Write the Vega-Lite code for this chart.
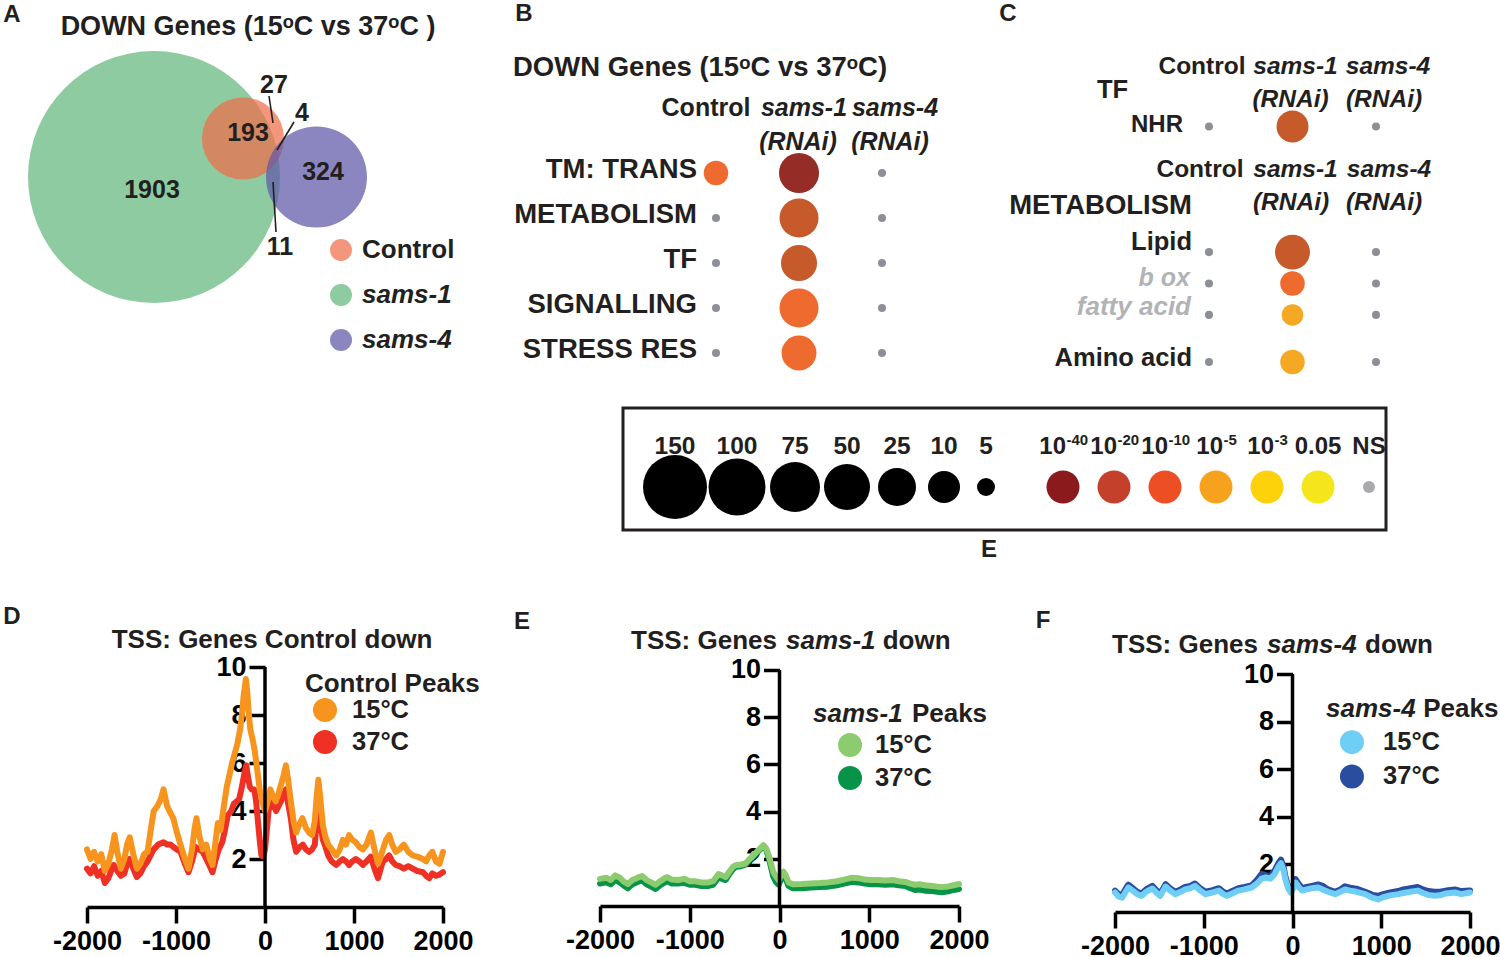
{
"$schema": "https://vega.github.io/schema/vega-lite/v6.json",
"background": "white",
"padding": 0,
"spacing": 0,
"bounds": "full",
"config": {
  "font": "Liberation Sans",
  "view": {"stroke": null},
  "text": {"font": "Liberation Sans", "fontWeight": "bold", "fontSize": 26, "color": "#231F20", "baseline": "middle"},
  "axis": {"domainColor": "#000000", "domainWidth": 3.5, "tickColor": "#000000", "tickWidth": 3.5, "tickSize": 16, "labelFont": "Liberation Sans", "labelFontSize": 27, "labelFontWeight": "bold", "labelColor": "#000000", "grid": false}
},
"datasets": {
  "one": [{}],
  "venn": [
    {"set": "sams-1", "genes": 2111, "cx": 30.8, "cy": 35.4},
    {"set": "Control", "genes": 224, "cx": 48.6, "cy": 27.7},
    {"set": "sams-4", "genes": 339, "cx": 63.3, "cy": 35.4}
  ],
  "vennCounts": [
    {"region": "sams-1 only", "count": 1903, "lx": 30.4, "ly": 38},
    {"region": "Control and sams-1", "count": 193, "lx": 49.6, "ly": 26.6},
    {"region": "Control only", "count": 27, "lx": 54.8, "ly": 17},
    {"region": "all three", "count": 4, "lx": 60.4, "ly": 22.6},
    {"region": "sams-4 only", "count": 324, "lx": 64.6, "ly": 34.4},
    {"region": "sams-1 and sams-4", "count": 11, "lx": 56, "ly": 49.4}
  ],
  "leaders": [
    {"count": 27, "x1": 53.8, "y1": 19.2, "x2": 54.6, "y2": 24.6},
    {"count": 4, "x1": 58.8, "y1": 24.4, "x2": 55.4, "y2": 30},
    {"count": 11, "x1": 54.6, "y1": 36.4, "x2": 55.2, "y2": 46.4}
  ],
  "dotsB": [
    {"category": "TM: TRANS", "group": "Control", "genes": 7, "p": "1e-10"},
    {"category": "TM: TRANS", "group": "sams-1", "genes": 31, "p": "1e-40"},
    {"category": "TM: TRANS", "group": "sams-4", "genes": 1, "p": "NS"},
    {"category": "METABOLISM", "group": "Control", "genes": 1, "p": "NS"},
    {"category": "METABOLISM", "group": "sams-1", "genes": 28, "p": "1e-20"},
    {"category": "METABOLISM", "group": "sams-4", "genes": 1, "p": "NS"},
    {"category": "TF", "group": "Control", "genes": 1, "p": "NS"},
    {"category": "TF", "group": "sams-1", "genes": 20, "p": "1e-20"},
    {"category": "TF", "group": "sams-4", "genes": 1, "p": "NS"},
    {"category": "SIGNALLING", "group": "Control", "genes": 1, "p": "NS"},
    {"category": "SIGNALLING", "group": "sams-1", "genes": 28, "p": "1e-10"},
    {"category": "SIGNALLING", "group": "sams-4", "genes": 1, "p": "NS"},
    {"category": "STRESS RES", "group": "Control", "genes": 1, "p": "NS"},
    {"category": "STRESS RES", "group": "sams-1", "genes": 17, "p": "1e-10"},
    {"category": "STRESS RES", "group": "sams-4", "genes": 1, "p": "NS"}
  ],
  "dotsC": [
    {"category": "NHR", "group": "Control", "genes": 1, "p": "NS"},
    {"category": "NHR", "group": "sams-1", "genes": 10, "p": "1e-20"},
    {"category": "NHR", "group": "sams-4", "genes": 1, "p": "NS"},
    {"category": "Lipid", "group": "Control", "genes": 1, "p": "NS"},
    {"category": "Lipid", "group": "sams-1", "genes": 17, "p": "1e-20"},
    {"category": "Lipid", "group": "sams-4", "genes": 1, "p": "NS"},
    {"category": "b ox", "group": "Control", "genes": 1, "p": "NS"},
    {"category": "b ox", "group": "sams-1", "genes": 7, "p": "1e-10"},
    {"category": "b ox", "group": "sams-4", "genes": 1, "p": "NS"},
    {"category": "fatty acid", "group": "Control", "genes": 1, "p": "NS"},
    {"category": "fatty acid", "group": "sams-1", "genes": 6, "p": "1e-5"},
    {"category": "fatty acid", "group": "sams-4", "genes": 1, "p": "NS"},
    {"category": "Amino acid", "group": "Control", "genes": 1, "p": "NS"},
    {"category": "Amino acid", "group": "sams-1", "genes": 7, "p": "1e-5"},
    {"category": "Amino acid", "group": "sams-4", "genes": 1, "p": "NS"}
  ],
  "sizeKey": [{"n": 150}, {"n": 100}, {"n": 75}, {"n": 50}, {"n": 25}, {"n": 10}, {"n": 5}],
  "pKey": [
    {"p": "1e-40", "base": "10", "exp": "-40"}, {"p": "1e-20", "base": "10", "exp": "-20"}, {"p": "1e-10", "base": "10", "exp": "-10"},
    {"p": "1e-5", "base": "10", "exp": "-5"}, {"p": "1e-3", "base": "10", "exp": "-3"}, {"p": "0.05", "base": "0.05", "exp": ""}, {"p": "NS", "base": "NS", "exp": ""}
  ],
  "D15": [
    {"pos":-2000,"signal":2.4},{"pos":-1960,"signal":2.0},{"pos":-1920,"signal":2.3},{"pos":-1880,"signal":1.9},{"pos":-1840,"signal":2.2},{"pos":-1800,"signal":1.5},{"pos":-1760,"signal":1.8},{"pos":-1720,"signal":2.4},{"pos":-1690,"signal":3.0},{"pos":-1660,"signal":2.3},{"pos":-1620,"signal":1.6},{"pos":-1580,"signal":2.0},{"pos":-1550,"signal":2.6},{"pos":-1520,"signal":2.9},{"pos":-1480,"signal":2.2},{"pos":-1440,"signal":1.6},{"pos":-1400,"signal":1.8},{"pos":-1360,"signal":2.2},{"pos":-1320,"signal":2.3},{"pos":-1280,"signal":3.3},{"pos":-1250,"signal":4.0},{"pos":-1210,"signal":4.2},{"pos":-1170,"signal":4.5},{"pos":-1140,"signal":4.9},{"pos":-1100,"signal":4.2},{"pos":-1060,"signal":3.9},{"pos":-1030,"signal":3.7},{"pos":-990,"signal":3.1},{"pos":-950,"signal":2.6},{"pos":-900,"signal":2.0},{"pos":-860,"signal":1.6},{"pos":-820,"signal":2.4},{"pos":-790,"signal":3.3},{"pos":-770,"signal":3.7},{"pos":-740,"signal":3.0},{"pos":-700,"signal":2.4},{"pos":-660,"signal":2.6},{"pos":-620,"signal":2.0},{"pos":-590,"signal":1.75},{"pos":-560,"signal":2.6},{"pos":-530,"signal":3.5},{"pos":-500,"signal":3.2},{"pos":-470,"signal":4.0},{"pos":-430,"signal":5.0},{"pos":-400,"signal":5.5},{"pos":-370,"signal":6.0},{"pos":-340,"signal":6.4},{"pos":-310,"signal":6.8},{"pos":-280,"signal":7.4},{"pos":-260,"signal":8.0},{"pos":-240,"signal":8.8},{"pos":-215,"signal":9.5},{"pos":-200,"signal":9.0},{"pos":-185,"signal":8.2},{"pos":-165,"signal":7.4},{"pos":-140,"signal":7.0},{"pos":-115,"signal":6.5},{"pos":-90,"signal":5.8},{"pos":-60,"signal":4.9},{"pos":-30,"signal":4.4},{"pos":0,"signal":4.0},{"pos":30,"signal":4.4},{"pos":60,"signal":4.9},{"pos":90,"signal":4.6},{"pos":120,"signal":4.4},{"pos":150,"signal":4.7},{"pos":180,"signal":5.1},{"pos":210,"signal":5.5},{"pos":235,"signal":5.9},{"pos":260,"signal":5.3},{"pos":290,"signal":4.4},{"pos":320,"signal":3.6},{"pos":350,"signal":3.1},{"pos":380,"signal":3.4},{"pos":420,"signal":3.7},{"pos":460,"signal":3.3},{"pos":495,"signal":3.1},{"pos":530,"signal":3.0},{"pos":560,"signal":3.6},{"pos":580,"signal":4.6},{"pos":600,"signal":5.3},{"pos":620,"signal":4.6},{"pos":650,"signal":3.4},{"pos":680,"signal":2.9},{"pos":710,"signal":2.6},{"pos":750,"signal":2.4},{"pos":800,"signal":2.15},{"pos":840,"signal":2.4},{"pos":875,"signal":2.8},{"pos":910,"signal":2.6},{"pos":945,"signal":3.0},{"pos":980,"signal":2.8},{"pos":1020,"signal":2.7},{"pos":1060,"signal":2.5},{"pos":1100,"signal":2.4},{"pos":1140,"signal":2.6},{"pos":1190,"signal":3.1},{"pos":1230,"signal":2.4},{"pos":1270,"signal":1.8},{"pos":1300,"signal":2.1},{"pos":1325,"signal":2.4},{"pos":1360,"signal":2.8},{"pos":1395,"signal":3.0},{"pos":1430,"signal":2.6},{"pos":1470,"signal":2.3},{"pos":1510,"signal":2.4},{"pos":1560,"signal":2.6},{"pos":1610,"signal":2.3},{"pos":1660,"signal":2.15},{"pos":1710,"signal":2.1},{"pos":1775,"signal":2.0},{"pos":1810,"signal":1.9},{"pos":1845,"signal":2.15},{"pos":1880,"signal":2.3},{"pos":1920,"signal":1.9},{"pos":1960,"signal":1.8},{"pos":2000,"signal":2.3}
  ],
  "D37": [
    {"pos":-2000,"signal":1.6},{"pos":-1960,"signal":1.4},{"pos":-1920,"signal":1.7},{"pos":-1880,"signal":1.3},{"pos":-1840,"signal":1.5},{"pos":-1800,"signal":1.0},{"pos":-1760,"signal":1.2},{"pos":-1720,"signal":1.6},{"pos":-1700,"signal":1.75},{"pos":-1660,"signal":1.5},{"pos":-1620,"signal":1.3},{"pos":-1580,"signal":1.4},{"pos":-1550,"signal":1.8},{"pos":-1520,"signal":2.0},{"pos":-1480,"signal":1.6},{"pos":-1440,"signal":1.25},{"pos":-1400,"signal":1.4},{"pos":-1360,"signal":1.7},{"pos":-1320,"signal":1.9},{"pos":-1280,"signal":2.2},{"pos":-1250,"signal":2.4},{"pos":-1200,"signal":2.6},{"pos":-1140,"signal":2.7},{"pos":-1100,"signal":2.6},{"pos":-1060,"signal":2.6},{"pos":-1030,"signal":2.5},{"pos":-990,"signal":2.4},{"pos":-950,"signal":2.3},{"pos":-900,"signal":1.8},{"pos":-860,"signal":1.45},{"pos":-820,"signal":1.9},{"pos":-780,"signal":2.5},{"pos":-740,"signal":2.4},{"pos":-700,"signal":2.3},{"pos":-660,"signal":2.0},{"pos":-620,"signal":1.7},{"pos":-590,"signal":1.45},{"pos":-560,"signal":1.9},{"pos":-520,"signal":2.4},{"pos":-480,"signal":2.7},{"pos":-450,"signal":3.2},{"pos":-420,"signal":3.8},{"pos":-380,"signal":4.0},{"pos":-350,"signal":4.3},{"pos":-320,"signal":4.4},{"pos":-290,"signal":4.5},{"pos":-260,"signal":5.0},{"pos":-230,"signal":5.6},{"pos":-210,"signal":5.9},{"pos":-190,"signal":5.4},{"pos":-170,"signal":5.0},{"pos":-150,"signal":4.9},{"pos":-120,"signal":4.9},{"pos":-100,"signal":4.4},{"pos":-80,"signal":3.6},{"pos":-60,"signal":2.8},{"pos":-40,"signal":2.15},{"pos":-20,"signal":2.1},{"pos":0,"signal":2.4},{"pos":20,"signal":3.2},{"pos":40,"signal":4.0},{"pos":70,"signal":4.5},{"pos":100,"signal":4.2},{"pos":125,"signal":4.0},{"pos":150,"signal":4.2},{"pos":180,"signal":4.4},{"pos":210,"signal":4.7},{"pos":235,"signal":4.9},{"pos":260,"signal":4.3},{"pos":290,"signal":3.7},{"pos":320,"signal":2.8},{"pos":350,"signal":2.3},{"pos":390,"signal":2.5},{"pos":425,"signal":2.6},{"pos":460,"signal":2.4},{"pos":495,"signal":2.3},{"pos":530,"signal":2.4},{"pos":560,"signal":2.6},{"pos":580,"signal":3.6},{"pos":600,"signal":4.5},{"pos":620,"signal":3.6},{"pos":650,"signal":2.8},{"pos":680,"signal":2.5},{"pos":710,"signal":2.15},{"pos":750,"signal":1.9},{"pos":800,"signal":1.75},{"pos":840,"signal":1.9},{"pos":875,"signal":2.0},{"pos":910,"signal":1.9},{"pos":945,"signal":1.75},{"pos":980,"signal":1.9},{"pos":1020,"signal":2.0},{"pos":1060,"signal":1.9},{"pos":1100,"signal":1.75},{"pos":1140,"signal":1.9},{"pos":1190,"signal":2.1},{"pos":1230,"signal":1.6},{"pos":1270,"signal":1.2},{"pos":1300,"signal":1.6},{"pos":1325,"signal":1.9},{"pos":1360,"signal":2.0},{"pos":1395,"signal":2.15},{"pos":1430,"signal":1.9},{"pos":1470,"signal":1.75},{"pos":1510,"signal":1.7},{"pos":1560,"signal":1.6},{"pos":1610,"signal":1.7},{"pos":1660,"signal":1.6},{"pos":1710,"signal":1.5},{"pos":1775,"signal":1.45},{"pos":1810,"signal":1.3},{"pos":1845,"signal":1.2},{"pos":1880,"signal":1.4},{"pos":1920,"signal":1.3},{"pos":1960,"signal":1.35},{"pos":2000,"signal":1.45}
  ],
  "E15": [
    {"pos":-2000,"signal":1.15},{"pos":-1930,"signal":1.2},{"pos":-1880,"signal":1.1},{"pos":-1830,"signal":1.3},{"pos":-1780,"signal":1.2},{"pos":-1740,"signal":1.05},{"pos":-1690,"signal":0.93},{"pos":-1640,"signal":1.1},{"pos":-1580,"signal":1.2},{"pos":-1530,"signal":1.27},{"pos":-1480,"signal":1.1},{"pos":-1430,"signal":1.0},{"pos":-1380,"signal":0.9},{"pos":-1330,"signal":1.05},{"pos":-1280,"signal":1.18},{"pos":-1250,"signal":1.22},{"pos":-1200,"signal":1.12},{"pos":-1130,"signal":1.1},{"pos":-1060,"signal":1.15},{"pos":-1000,"signal":1.05},{"pos":-940,"signal":1.05},{"pos":-870,"signal":1.0},{"pos":-790,"signal":1.0},{"pos":-740,"signal":1.05},{"pos":-700,"signal":1.25},{"pos":-680,"signal":1.35},{"pos":-640,"signal":1.3},{"pos":-600,"signal":1.22},{"pos":-560,"signal":1.45},{"pos":-520,"signal":1.65},{"pos":-490,"signal":1.73},{"pos":-440,"signal":1.75},{"pos":-380,"signal":1.8},{"pos":-330,"signal":2.0},{"pos":-290,"signal":2.15},{"pos":-240,"signal":2.35},{"pos":-200,"signal":2.5},{"pos":-180,"signal":2.58},{"pos":-150,"signal":2.45},{"pos":-120,"signal":2.15},{"pos":-95,"signal":1.8},{"pos":-70,"signal":1.45},{"pos":-40,"signal":1.25},{"pos":-10,"signal":1.1},{"pos":20,"signal":1.3},{"pos":45,"signal":1.45},{"pos":70,"signal":1.3},{"pos":100,"signal":1.0},{"pos":150,"signal":0.92},{"pos":250,"signal":0.93},{"pos":350,"signal":0.95},{"pos":450,"signal":0.97},{"pos":540,"signal":1.0},{"pos":640,"signal":1.05},{"pos":720,"signal":1.12},{"pos":810,"signal":1.2},{"pos":880,"signal":1.18},{"pos":950,"signal":1.12},{"pos":1020,"signal":1.1},{"pos":1100,"signal":1.1},{"pos":1180,"signal":1.08},{"pos":1260,"signal":1.1},{"pos":1330,"signal":1.05},{"pos":1400,"signal":1.02},{"pos":1460,"signal":0.95},{"pos":1510,"signal":0.9},{"pos":1560,"signal":0.92},{"pos":1620,"signal":0.88},{"pos":1700,"signal":0.85},{"pos":1760,"signal":0.82},{"pos":1810,"signal":0.8},{"pos":1880,"signal":0.83},{"pos":1940,"signal":0.88},{"pos":2000,"signal":0.93}
  ],
  "E37": [
    {"pos":-2000,"signal":0.95},{"pos":-1930,"signal":1.0},{"pos":-1880,"signal":0.92},{"pos":-1830,"signal":1.1},{"pos":-1780,"signal":1.0},{"pos":-1740,"signal":0.88},{"pos":-1690,"signal":0.75},{"pos":-1640,"signal":0.92},{"pos":-1580,"signal":1.02},{"pos":-1530,"signal":1.08},{"pos":-1480,"signal":0.92},{"pos":-1430,"signal":0.82},{"pos":-1380,"signal":0.72},{"pos":-1330,"signal":0.88},{"pos":-1280,"signal":1.0},{"pos":-1250,"signal":1.05},{"pos":-1200,"signal":0.95},{"pos":-1130,"signal":0.95},{"pos":-1060,"signal":0.98},{"pos":-1000,"signal":0.9},{"pos":-940,"signal":0.9},{"pos":-870,"signal":0.85},{"pos":-790,"signal":0.85},{"pos":-740,"signal":0.9},{"pos":-700,"signal":1.1},{"pos":-680,"signal":1.2},{"pos":-640,"signal":1.15},{"pos":-600,"signal":1.1},{"pos":-560,"signal":1.35},{"pos":-520,"signal":1.55},{"pos":-490,"signal":1.65},{"pos":-440,"signal":1.68},{"pos":-380,"signal":1.75},{"pos":-330,"signal":1.95},{"pos":-290,"signal":2.1},{"pos":-240,"signal":2.3},{"pos":-200,"signal":2.45},{"pos":-180,"signal":2.52},{"pos":-150,"signal":2.4},{"pos":-120,"signal":2.05},{"pos":-95,"signal":1.65},{"pos":-70,"signal":1.25},{"pos":-40,"signal":1.02},{"pos":-10,"signal":0.9},{"pos":20,"signal":1.15},{"pos":45,"signal":1.3},{"pos":70,"signal":1.15},{"pos":100,"signal":0.85},{"pos":150,"signal":0.75},{"pos":250,"signal":0.75},{"pos":350,"signal":0.78},{"pos":450,"signal":0.8},{"pos":540,"signal":0.82},{"pos":640,"signal":0.88},{"pos":720,"signal":0.95},{"pos":810,"signal":1.02},{"pos":880,"signal":1.0},{"pos":950,"signal":0.95},{"pos":1020,"signal":0.92},{"pos":1100,"signal":0.92},{"pos":1180,"signal":0.9},{"pos":1260,"signal":0.92},{"pos":1330,"signal":0.88},{"pos":1400,"signal":0.85},{"pos":1460,"signal":0.75},{"pos":1510,"signal":0.68},{"pos":1560,"signal":0.7},{"pos":1620,"signal":0.65},{"pos":1700,"signal":0.63},{"pos":1760,"signal":0.6},{"pos":1810,"signal":0.58},{"pos":1880,"signal":0.62},{"pos":1940,"signal":0.68},{"pos":2000,"signal":0.72}
  ],
  "F15": [
    {"pos":-2000,"signal":0.82},{"pos":-1960,"signal":0.65},{"pos":-1920,"signal":0.6},{"pos":-1880,"signal":0.85},{"pos":-1850,"signal":1.03},{"pos":-1800,"signal":0.9},{"pos":-1750,"signal":0.75},{"pos":-1700,"signal":0.68},{"pos":-1650,"signal":0.85},{"pos":-1580,"signal":0.99},{"pos":-1530,"signal":0.8},{"pos":-1490,"signal":0.68},{"pos":-1430,"signal":1.07},{"pos":-1380,"signal":0.9},{"pos":-1320,"signal":0.75},{"pos":-1260,"signal":0.85},{"pos":-1210,"signal":0.95},{"pos":-1150,"signal":1.0},{"pos":-1100,"signal":1.1},{"pos":-1040,"signal":0.9},{"pos":-980,"signal":0.75},{"pos":-900,"signal":0.82},{"pos":-830,"signal":0.9},{"pos":-780,"signal":0.75},{"pos":-740,"signal":0.68},{"pos":-680,"signal":0.78},{"pos":-610,"signal":0.9},{"pos":-540,"signal":0.95},{"pos":-460,"signal":1.03},{"pos":-400,"signal":1.2},{"pos":-350,"signal":1.4},{"pos":-300,"signal":1.45},{"pos":-250,"signal":1.4},{"pos":-200,"signal":1.6},{"pos":-160,"signal":1.9},{"pos":-130,"signal":2.05},{"pos":-100,"signal":1.75},{"pos":-80,"signal":1.37},{"pos":-50,"signal":1.0},{"pos":-20,"signal":0.82},{"pos":10,"signal":1.0},{"pos":35,"signal":1.24},{"pos":70,"signal":1.05},{"pos":110,"signal":0.9},{"pos":160,"signal":0.95},{"pos":220,"signal":1.0},{"pos":290,"signal":1.03},{"pos":340,"signal":0.95},{"pos":400,"signal":0.85},{"pos":480,"signal":0.75},{"pos":540,"signal":0.85},{"pos":590,"signal":0.95},{"pos":650,"signal":0.9},{"pos":720,"signal":0.85},{"pos":820,"signal":0.75},{"pos":900,"signal":0.6},{"pos":965,"signal":0.53},{"pos":1020,"signal":0.62},{"pos":1100,"signal":0.7},{"pos":1190,"signal":0.75},{"pos":1250,"signal":0.8},{"pos":1330,"signal":0.85},{"pos":1410,"signal":0.9},{"pos":1470,"signal":0.8},{"pos":1530,"signal":0.72},{"pos":1600,"signal":0.68},{"pos":1660,"signal":0.7},{"pos":1730,"signal":0.78},{"pos":1830,"signal":0.82},{"pos":1900,"signal":0.75},{"pos":2000,"signal":0.82}
  ],
  "F37": [
    {"pos":-2000,"signal":0.9},{"pos":-1960,"signal":0.75},{"pos":-1920,"signal":0.72},{"pos":-1880,"signal":0.98},{"pos":-1850,"signal":1.15},{"pos":-1800,"signal":1.0},{"pos":-1750,"signal":0.85},{"pos":-1700,"signal":0.78},{"pos":-1650,"signal":0.95},{"pos":-1580,"signal":1.1},{"pos":-1530,"signal":0.9},{"pos":-1490,"signal":0.78},{"pos":-1430,"signal":1.17},{"pos":-1380,"signal":1.0},{"pos":-1320,"signal":0.85},{"pos":-1260,"signal":0.95},{"pos":-1210,"signal":1.05},{"pos":-1150,"signal":1.1},{"pos":-1100,"signal":1.2},{"pos":-1040,"signal":1.0},{"pos":-980,"signal":0.85},{"pos":-900,"signal":0.92},{"pos":-830,"signal":1.0},{"pos":-780,"signal":0.85},{"pos":-740,"signal":0.78},{"pos":-680,"signal":0.88},{"pos":-610,"signal":1.0},{"pos":-540,"signal":1.05},{"pos":-460,"signal":1.12},{"pos":-400,"signal":1.35},{"pos":-350,"signal":1.6},{"pos":-300,"signal":1.55},{"pos":-250,"signal":1.5},{"pos":-200,"signal":1.75},{"pos":-160,"signal":2.05},{"pos":-130,"signal":2.2},{"pos":-100,"signal":1.9},{"pos":-80,"signal":1.5},{"pos":-50,"signal":1.1},{"pos":-20,"signal":0.92},{"pos":10,"signal":1.12},{"pos":35,"signal":1.38},{"pos":70,"signal":1.18},{"pos":110,"signal":1.0},{"pos":160,"signal":1.05},{"pos":220,"signal":1.1},{"pos":290,"signal":1.16},{"pos":340,"signal":1.1},{"pos":400,"signal":0.95},{"pos":480,"signal":0.85},{"pos":540,"signal":0.95},{"pos":590,"signal":1.08},{"pos":650,"signal":1.02},{"pos":720,"signal":0.98},{"pos":820,"signal":0.85},{"pos":900,"signal":0.72},{"pos":965,"signal":0.68},{"pos":1020,"signal":0.75},{"pos":1100,"signal":0.82},{"pos":1190,"signal":0.88},{"pos":1250,"signal":0.95},{"pos":1330,"signal":1.0},{"pos":1410,"signal":1.05},{"pos":1470,"signal":0.95},{"pos":1530,"signal":0.88},{"pos":1600,"signal":0.85},{"pos":1660,"signal":0.85},{"pos":1730,"signal":0.9},{"pos":1830,"signal":0.95},{"pos":1900,"signal":0.88},{"pos":2000,"signal":0.9}
  ]
},
"resolve": {"scale": {"color": "independent", "size": "independent"}},
"vconcat": [
  {
    "spacing": 0, "bounds": "flush",
    "resolve": {"scale": {"color": "independent", "size": "independent"}},
    "hconcat": [
      {
        "width": 500, "height": 406,
        "layer": [
          {
            "data": {"name": "venn"},
            "mark": {"type": "point", "shape": "circle", "filled": true, "opacity": 0.72, "strokeWidth": 0},
            "encoding": {
              "x": {"field": "cx", "type": "quantitative", "scale": {"domain": [0, 100], "nice": false, "zero": false}, "axis": null},
              "y": {"field": "cy", "type": "quantitative", "scale": {"domain": [0, 81.2], "nice": false, "zero": false, "reverse": true}, "axis": null},
              "size": {"field": "genes", "type": "quantitative", "scale": {"domain": [0, 2111], "range": [0, 63504]}, "legend": null},
              "color": {"field": "set", "type": "nominal",
                "scale": {"domain": ["Control", "sams-1", "sams-4"], "range": ["#F06D4A", "#62B77B", "#5F58A7"]},
                "legend": {"orient": "none", "legendX": 328, "legendY": 237, "title": null, "symbolType": "circle", "symbolSize": 484, "symbolOpacity": 0.72, "symbolStrokeWidth": 0, "labelFont": "Liberation Sans", "labelFontSize": 26, "labelFontWeight": "bold", "labelColor": "#231F20", "labelOffset": 8, "rowPadding": 19, "padding": 0,
                  "encode": {"labels": {"update": {"fontStyle": {"signal": "datum.value === 'Control' ? 'normal' : 'italic'"}}}}}
              }
            }
          },
          {
            "data": {"name": "leaders"},
            "mark": {"type": "rule", "color": "#231F20", "strokeWidth": 1.6},
            "encoding": {
              "x": {"field": "x1", "type": "quantitative"}, "y": {"field": "y1", "type": "quantitative"},
              "x2": {"field": "x2"}, "y2": {"field": "y2"}
            }
          },
          {
            "data": {"name": "vennCounts"},
            "mark": {"type": "text", "fontSize": 25},
            "encoding": {
              "x": {"field": "lx", "type": "quantitative"}, "y": {"field": "ly", "type": "quantitative"},
              "text": {"field": "count", "type": "nominal"}
            }
          },
          {"data": {"name": "one"}, "mark": {"type": "text", "text": "DOWN Genes (15ᵒC vs 37ᵒC )", "fontSize": 27}, "encoding": {"x": {"datum": 49.6}, "y": {"datum": 5.4}}},
          {"data": {"name": "one"}, "mark": {"type": "text", "text": "A", "fontSize": 24}, "encoding": {"x": {"datum": 2.4}, "y": {"datum": 3}}}
        ]
      },
      {
        "width": 500, "height": 406,
        "layer": [
          {
            "data": {"name": "dotsB"},
            "mark": {"type": "point", "shape": "circle", "filled": true, "opacity": 1},
            "encoding": {
              "x": {"field": "group", "type": "nominal", "scale": {"type": "point", "domain": ["Control", "sams-1", "sams-4"], "range": [216, 382], "padding": 0}, "axis": null},
              "y": {"field": "category", "type": "nominal", "scale": {"type": "point", "domain": ["TM: TRANS", "METABOLISM", "TF", "SIGNALLING", "STRESS RES"], "range": [173, 353], "padding": 0}, "axis": null},
              "size": {"field": "genes", "type": "quantitative", "scale": {"type": "linear", "domain": [0, 5, 10, 25, 50, 75, 100, 150], "range": [0, 324, 1024, 1444, 2116, 2500, 3249, 4096], "zero": false, "nice": false}, "legend": null},
              "color": {"field": "p", "type": "nominal", "scale": {"domain": ["1e-40", "1e-20", "1e-10", "1e-5", "NS"], "range": ["#952D26", "#C65A2B", "#EE6A2E", "#F4A823", "#8C9096"]}, "legend": null}
            }
          },
          {
            "data": {"name": "dotsB"},
            "transform": [{"filter": "datum.group === 'Control'"}],
            "mark": {"type": "text", "align": "right", "dx": -19, "dy": -3, "fontSize": 27.5},
            "encoding": {"x": {"datum": "Control"}, "y": {"field": "category", "type": "nominal"}, "text": {"field": "category", "type": "nominal"}}
          },
          {"data": {"name": "one"}, "mark": {"type": "text", "text": "Control", "fontSize": 25, "dx": -10, "dy": -65}, "encoding": {"x": {"datum": "Control"}, "y": {"datum": "TM: TRANS"}}},
          {"data": {"name": "one"}, "mark": {"type": "text", "text": "sams-1", "fontSize": 25, "fontStyle": "italic", "dx": 5, "dy": -65}, "encoding": {"x": {"datum": "sams-1"}, "y": {"datum": "TM: TRANS"}}},
          {"data": {"name": "one"}, "mark": {"type": "text", "text": "sams-4", "fontSize": 25, "fontStyle": "italic", "dx": 13, "dy": -65}, "encoding": {"x": {"datum": "sams-4"}, "y": {"datum": "TM: TRANS"}}},
          {"data": {"name": "one"}, "mark": {"type": "text", "text": "(RNAi)", "fontSize": 25, "fontStyle": "italic", "dx": -1, "dy": -31}, "encoding": {"x": {"datum": "sams-1"}, "y": {"datum": "TM: TRANS"}}},
          {"data": {"name": "one"}, "mark": {"type": "text", "text": "(RNAi)", "fontSize": 25, "fontStyle": "italic", "dx": 8, "dy": -31}, "encoding": {"x": {"datum": "sams-4"}, "y": {"datum": "TM: TRANS"}}},
          {"data": {"name": "one"}, "mark": {"type": "text", "text": "DOWN Genes (15ᵒC vs 37ᵒC)", "fontSize": 27.5, "align": "left", "dx": -203, "dy": -105}, "encoding": {"x": {"datum": "Control"}, "y": {"datum": "TM: TRANS"}}},
          {"data": {"name": "one"}, "mark": {"type": "text", "text": "B", "fontSize": 24, "dx": -192, "dy": -159}, "encoding": {"x": {"datum": "Control"}, "y": {"datum": "TM: TRANS"}}}
        ]
      },
      {
        "width": 500, "height": 406,
        "layer": [
          {
            "data": {"name": "dotsC"},
            "mark": {"type": "point", "shape": "circle", "filled": true, "opacity": 1},
            "encoding": {
              "x": {"field": "group", "type": "nominal", "scale": {"type": "point", "domain": ["Control", "sams-1", "sams-4"], "range": [209, 376], "padding": 0}, "axis": null},
              "y": {"field": "category", "type": "nominal", "scale": {"type": "point", "domain": ["NHR", "_1", "_2", "_3", "_4", "_5", "_6", "_7", "Lipid", "_9", "b ox", "_11", "fatty acid", "_13", "_14", "Amino acid"], "range": [126.5, 362], "padding": 0}, "axis": null},
              "size": {"field": "genes", "type": "quantitative", "scale": {"type": "linear", "domain": [0, 5, 10, 25, 50, 75, 100, 150], "range": [0, 324, 1024, 1444, 2116, 2500, 3249, 4096], "zero": false, "nice": false}, "legend": null},
              "color": {"field": "p", "type": "nominal", "scale": {"domain": ["1e-40", "1e-20", "1e-10", "1e-5", "NS"], "range": ["#952D26", "#C65A2B", "#EE6A2E", "#F4A823", "#8C9096"]}, "legend": null}
            }
          },
          {"data": {"name": "one"}, "mark": {"type": "text", "text": "NHR", "fontSize": 24, "align": "right", "dx": -26, "dy": -2}, "encoding": {"x": {"datum": "Control"}, "y": {"datum": "NHR"}}},
          {"data": {"name": "one"}, "mark": {"type": "text", "text": "Lipid", "fontSize": 25.5, "align": "right", "dx": -17, "dy": -10}, "encoding": {"x": {"datum": "Control"}, "y": {"datum": "Lipid"}}},
          {"data": {"name": "one"}, "mark": {"type": "text", "text": "b ox", "fontSize": 25, "fontStyle": "italic", "color": "#B1B3B6", "align": "right", "dx": -19, "dy": -6}, "encoding": {"x": {"datum": "Control"}, "y": {"datum": "b ox"}}},
          {"data": {"name": "one"}, "mark": {"type": "text", "text": "fatty acid", "fontSize": 26, "fontStyle": "italic", "color": "#B1B3B6", "align": "right", "dx": -18, "dy": -8}, "encoding": {"x": {"datum": "Control"}, "y": {"datum": "fatty acid"}}},
          {"data": {"name": "one"}, "mark": {"type": "text", "text": "Amino acid", "fontSize": 25.5, "align": "right", "dx": -17, "dy": -4}, "encoding": {"x": {"datum": "Control"}, "y": {"datum": "Amino acid"}}},
          {"data": {"name": "one"}, "mark": {"type": "text", "text": "Control", "fontSize": 24.5, "dx": -7, "dy": -59.5}, "encoding": {"x": {"datum": "Control"}, "y": {"datum": "NHR"}}},
          {"data": {"name": "one"}, "mark": {"type": "text", "text": "sams-1", "fontSize": 24.5, "fontStyle": "italic", "dx": 3, "dy": -59.5}, "encoding": {"x": {"datum": "sams-1"}, "y": {"datum": "NHR"}}},
          {"data": {"name": "one"}, "mark": {"type": "text", "text": "sams-4", "fontSize": 24.5, "fontStyle": "italic", "dx": 12, "dy": -59.5}, "encoding": {"x": {"datum": "sams-4"}, "y": {"datum": "NHR"}}},
          {"data": {"name": "one"}, "mark": {"type": "text", "text": "(RNAi)", "fontSize": 24.5, "fontStyle": "italic", "dx": -2, "dy": -26.5}, "encoding": {"x": {"datum": "sams-1"}, "y": {"datum": "NHR"}}},
          {"data": {"name": "one"}, "mark": {"type": "text", "text": "(RNAi)", "fontSize": 24.5, "fontStyle": "italic", "dx": 8, "dy": -26.5}, "encoding": {"x": {"datum": "sams-4"}, "y": {"datum": "NHR"}}},
          {"data": {"name": "one"}, "mark": {"type": "text", "text": "TF", "fontSize": 25.5, "dx": -96.5, "dy": -36.5}, "encoding": {"x": {"datum": "Control"}, "y": {"datum": "NHR"}}},
          {"data": {"name": "one"}, "mark": {"type": "text", "text": "Control", "fontSize": 24.5, "dx": -9, "dy": -82}, "encoding": {"x": {"datum": "Control"}, "y": {"datum": "Lipid"}}},
          {"data": {"name": "one"}, "mark": {"type": "text", "text": "sams-1", "fontSize": 24.5, "fontStyle": "italic", "dx": 3, "dy": -82}, "encoding": {"x": {"datum": "sams-1"}, "y": {"datum": "Lipid"}}},
          {"data": {"name": "one"}, "mark": {"type": "text", "text": "sams-4", "fontSize": 24.5, "fontStyle": "italic", "dx": 13, "dy": -82}, "encoding": {"x": {"datum": "sams-4"}, "y": {"datum": "Lipid"}}},
          {"data": {"name": "one"}, "mark": {"type": "text", "text": "(RNAi)", "fontSize": 24.5, "fontStyle": "italic", "dx": -1.5, "dy": -49}, "encoding": {"x": {"datum": "sams-1"}, "y": {"datum": "Lipid"}}},
          {"data": {"name": "one"}, "mark": {"type": "text", "text": "(RNAi)", "fontSize": 24.5, "fontStyle": "italic", "dx": 8, "dy": -49}, "encoding": {"x": {"datum": "sams-4"}, "y": {"datum": "Lipid"}}},
          {"data": {"name": "one"}, "mark": {"type": "text", "text": "METABOLISM", "fontSize": 27.5, "align": "right", "dx": -17, "dy": -46}, "encoding": {"x": {"datum": "Control"}, "y": {"datum": "Lipid"}}},
          {"data": {"name": "one"}, "mark": {"type": "text", "text": "C", "fontSize": 24, "dx": -201, "dy": -112.5}, "encoding": {"x": {"datum": "Control"}, "y": {"datum": "NHR"}}}
        ]
      }
    ]
  },
  {
    "spacing": 0, "bounds": "flush",
    "resolve": {"scale": {"color": "independent", "size": "independent"}},
    "hconcat": [
      {"width": 623, "height": 194, "data": {"name": "one"}, "mark": {"type": "point", "opacity": 0}, "encoding": {}},
      {
        "width": 763, "height": 122,
        "view": {"stroke": "#231F20", "strokeWidth": 3},
        "resolve": {"scale": {"x": "independent"}},
        "layer": [
          {
            "layer": [
              {
                "data": {"name": "sizeKey"},
                "mark": {"type": "point", "shape": "circle", "filled": true, "color": "#000000", "opacity": 1},
                "encoding": {
                  "x": {"field": "n", "type": "quantitative", "scale": {"type": "linear", "domain": [5, 10, 25, 50, 75, 100, 150], "range": [363, 321, 274, 224, 172, 114, 52], "zero": false, "nice": false}, "axis": null},
                  "y": {"datum": "symbol", "scale": {"type": "point", "domain": ["label", "symbol"], "range": [39, 79], "padding": 0}, "axis": null},
                  "size": {"field": "n", "type": "quantitative", "scale": {"type": "linear", "domain": [0, 5, 10, 25, 50, 75, 100, 150], "range": [0, 324, 1024, 1444, 2116, 2500, 3249, 4096], "zero": false, "nice": false}, "legend": null}
                }
              },
              {
                "data": {"name": "sizeKey"},
                "mark": {"type": "text", "fontSize": 24.5},
                "encoding": {"x": {"field": "n", "type": "quantitative"}, "y": {"datum": "label"}, "text": {"field": "n", "type": "nominal"}}
              },
              {"data": {"name": "one"}, "mark": {"type": "text", "text": "E", "fontSize": 24, "dx": 3, "dy": 63}, "encoding": {"x": {"datum": 5}, "y": {"datum": "symbol"}}}
            ]
          },
          {
            "layer": [
              {
                "data": {"name": "pKey"},
                "mark": {"type": "point", "shape": "circle", "filled": true, "opacity": 1},
                "encoding": {
                  "x": {"field": "p", "type": "nominal", "scale": {"type": "point", "domain": ["1e-40", "1e-20", "1e-10", "1e-5", "1e-3", "0.05", "NS"], "range": [440, 746], "padding": 0}, "axis": null},
                  "y": {"datum": "symbol"},
                  "color": {"field": "p", "type": "nominal", "scale": {"domain": ["1e-40", "1e-20", "1e-10", "1e-5", "1e-3", "0.05", "NS"], "range": ["#8B1A1D", "#C4402B", "#EE4E23", "#F7A21E", "#FDD20B", "#F5E61C", "#A8A9AD"]}, "legend": null},
                  "size": {"condition": {"test": "datum.p === 'NS'", "value": 144}, "value": 1089}
                }
              },
              {
                "data": {"name": "pKey"},
                "transform": [{"filter": "length(datum.exp) === 3"}],
                "mark": {"type": "text", "fontSize": 24, "align": "right", "dx": 3},
                "encoding": {"x": {"field": "p", "type": "nominal"}, "y": {"datum": "label"}, "text": {"field": "base", "type": "nominal"}}
              },
              {
                "data": {"name": "pKey"},
                "transform": [{"filter": "length(datum.exp) === 3"}],
                "mark": {"type": "text", "fontSize": 15, "align": "left", "dx": 3.5, "dy": -7},
                "encoding": {"x": {"field": "p", "type": "nominal"}, "y": {"datum": "label"}, "text": {"field": "exp", "type": "nominal"}}
              },
              {
                "data": {"name": "pKey"},
                "transform": [{"filter": "length(datum.exp) === 2"}],
                "mark": {"type": "text", "fontSize": 24, "align": "right", "dx": 7},
                "encoding": {"x": {"field": "p", "type": "nominal"}, "y": {"datum": "label"}, "text": {"field": "base", "type": "nominal"}}
              },
              {
                "data": {"name": "pKey"},
                "transform": [{"filter": "length(datum.exp) === 2"}],
                "mark": {"type": "text", "fontSize": 15, "align": "left", "dx": 7.5, "dy": -7},
                "encoding": {"x": {"field": "p", "type": "nominal"}, "y": {"datum": "label"}, "text": {"field": "exp", "type": "nominal"}}
              },
              {
                "data": {"name": "pKey"},
                "transform": [{"filter": "length(datum.exp) === 0"}],
                "mark": {"type": "text", "fontSize": 24},
                "encoding": {"x": {"field": "p", "type": "nominal"}, "y": {"datum": "label"}, "text": {"field": "base", "type": "nominal"}}
              }
            ]
          }
        ]
      }
    ]
  },
  {
    "spacing": 0, "bounds": "flush",
    "resolve": {"scale": {"color": "independent", "size": "independent"}},
    "hconcat": [
      {"width": 87, "height": 10, "data": {"name": "one"}, "mark": {"type": "point", "opacity": 0}, "encoding": {}},
      {
        "width": 356, "height": 305,
        "layer": [
          {
            "data": {"name": "D37"},
            "mark": {"type": "line", "color": "#EE3124", "strokeWidth": 6, "strokeJoin": "round", "strokeCap": "round"},
            "encoding": {
              "x": {"field": "pos", "type": "quantitative", "scale": {"domain": [-2000, 2000], "nice": false, "zero": false},
                    "axis": {"values": [-2000, -1000, 0, 1000, 2000], "labelExpr": "datum.value < 0 ? '-' + abs(datum.value) : '' + datum.value", "labelFlush": false, "labelOverlap": false, "labelPadding": 5, "title": null}},
              "y": {"field": "signal", "type": "quantitative", "scale": {"domain": [0, 12.71], "nice": false, "zero": false},
                    "axis": {"values": [2, 4, 6, 8, 10], "offset": -178, "domain": false, "labelPadding": 3, "labelOverlap": false, "title": null}}
            }
          },
          {
            "data": {"name": "D15"},
            "mark": {"type": "line", "color": "#F7941D", "strokeWidth": 6, "strokeJoin": "round", "strokeCap": "round"},
            "encoding": {"x": {"field": "pos", "type": "quantitative"}, "y": {"field": "signal", "type": "quantitative"}}
          },
          {"data": {"name": "one"}, "mark": {"type": "rule", "color": "#000000", "strokeWidth": 3.5}, "encoding": {"x": {"datum": 0}, "y": {"datum": 0}, "y2": {"datum": 10}}},
          {"data": {"name": "one"}, "mark": {"type": "text", "text": "D", "fontSize": 24}, "encoding": {"x": {"datum": -2843}, "y": {"datum": 12.08}}},
          {"data": {"name": "one"}, "mark": {"type": "text", "text": "TSS: Genes Control down", "fontSize": 26}, "encoding": {"x": {"datum": 79}, "y": {"datum": 11.13}}},
          {"data": {"name": "one"}, "mark": {"type": "text", "text": "Control Peaks", "fontSize": 26, "align": "left"}, "encoding": {"x": {"datum": 449}, "y": {"datum": 9.29}}},
          {"data": {"name": "one"}, "mark": {"type": "point", "shape": "circle", "filled": true, "opacity": 1, "size": 576, "color": "#F7941D"}, "encoding": {"x": {"datum": 674}, "y": {"datum": 8.21}}},
          {"data": {"name": "one"}, "mark": {"type": "point", "shape": "circle", "filled": true, "opacity": 1, "size": 576, "color": "#EE3124"}, "encoding": {"x": {"datum": 674}, "y": {"datum": 6.875}}},
          {"data": {"name": "one"}, "mark": {"type": "text", "text": "15°C", "fontSize": 25.5, "align": "left"}, "encoding": {"x": {"datum": 978}, "y": {"datum": 8.21}}},
          {"data": {"name": "one"}, "mark": {"type": "text", "text": "37°C", "fontSize": 25.5, "align": "left"}, "encoding": {"x": {"datum": 978}, "y": {"datum": 6.875}}}
        ]
      },
      {"width": 157, "height": 10, "data": {"name": "one"}, "mark": {"type": "point", "opacity": 0}, "encoding": {}},
      {
        "width": 359, "height": 304,
        "layer": [
          {
            "data": {"name": "E37"},
            "mark": {"type": "line", "color": "#089448", "strokeWidth": 6, "strokeJoin": "round", "strokeCap": "round"},
            "encoding": {
              "x": {"field": "pos", "type": "quantitative", "scale": {"domain": [-2000, 2000], "nice": false, "zero": false},
                    "axis": {"values": [-2000, -1000, 0, 1000, 2000], "labelExpr": "datum.value < 0 ? '-' + abs(datum.value) : '' + datum.value", "labelFlush": false, "labelOverlap": false, "labelPadding": 5, "title": null}},
              "y": {"field": "signal", "type": "quantitative", "scale": {"domain": [0, 12.88], "nice": false, "zero": false},
                    "axis": {"values": [2, 4, 6, 8, 10], "offset": -179.5, "domain": false, "labelPadding": 3, "labelOverlap": false, "title": null}}
            }
          },
          {
            "data": {"name": "E15"},
            "mark": {"type": "line", "color": "#8DCC6E", "strokeWidth": 6, "strokeJoin": "round", "strokeCap": "round"},
            "encoding": {"x": {"field": "pos", "type": "quantitative"}, "y": {"field": "signal", "type": "quantitative"}}
          },
          {"data": {"name": "one"}, "mark": {"type": "rule", "color": "#000000", "strokeWidth": 3.5}, "encoding": {"x": {"datum": 0}, "y": {"datum": 0}, "y2": {"datum": 10}}},
          {"data": {"name": "one"}, "mark": {"type": "text", "text": "E", "fontSize": 24}, "encoding": {"x": {"datum": -2869}, "y": {"datum": 12.03}}},
          {"data": {"name": "one"}, "mark": {"type": "text", "text": "TSS: Genes", "fontSize": 26, "align": "right"}, "encoding": {"x": {"datum": -28}, "y": {"datum": 11.23}}},
          {"data": {"name": "one"}, "mark": {"type": "text", "text": "sams-1", "fontSize": 26, "fontStyle": "italic", "align": "left"}, "encoding": {"x": {"datum": 72}, "y": {"datum": 11.23}}},
          {"data": {"name": "one"}, "mark": {"type": "text", "text": "down", "fontSize": 26, "align": "left"}, "encoding": {"x": {"datum": 1150}, "y": {"datum": 11.23}}},
          {"data": {"name": "one"}, "mark": {"type": "text", "text": "sams-1", "fontSize": 26, "fontStyle": "italic", "align": "left"}, "encoding": {"x": {"datum": 373}, "y": {"datum": 8.15}}},
          {"data": {"name": "one"}, "mark": {"type": "text", "text": "Peaks", "fontSize": 26, "align": "left"}, "encoding": {"x": {"datum": 1475}, "y": {"datum": 8.15}}},
          {"data": {"name": "one"}, "mark": {"type": "point", "shape": "circle", "filled": true, "opacity": 1, "size": 576, "color": "#8DCC6E"}, "encoding": {"x": {"datum": 786}, "y": {"datum": 6.82}}},
          {"data": {"name": "one"}, "mark": {"type": "point", "shape": "circle", "filled": true, "opacity": 1, "size": 576, "color": "#089448"}, "encoding": {"x": {"datum": 786}, "y": {"datum": 5.42}}},
          {"data": {"name": "one"}, "mark": {"type": "text", "text": "15°C", "fontSize": 25.5, "align": "left"}, "encoding": {"x": {"datum": 1064}, "y": {"datum": 6.82}}},
          {"data": {"name": "one"}, "mark": {"type": "text", "text": "37°C", "fontSize": 25.5, "align": "left"}, "encoding": {"x": {"datum": 1064}, "y": {"datum": 5.42}}}
        ]
      },
      {"width": 156, "height": 10, "data": {"name": "one"}, "mark": {"type": "point", "opacity": 0}, "encoding": {}},
      {
        "width": 355, "height": 310,
        "layer": [
          {
            "data": {"name": "F37"},
            "mark": {"type": "line", "color": "#2B4DA0", "strokeWidth": 6, "strokeJoin": "round", "strokeCap": "round"},
            "encoding": {
              "x": {"field": "pos", "type": "quantitative", "scale": {"domain": [-2000, 2000], "nice": false, "zero": false},
                    "axis": {"values": [-2000, -1000, 0, 1000, 2000], "labelExpr": "datum.value < 0 ? '-' + abs(datum.value) : '' + datum.value", "labelFlush": false, "labelOverlap": false, "labelPadding": 5, "title": null}},
              "y": {"field": "signal", "type": "quantitative", "scale": {"domain": [0, 13.03], "nice": false, "zero": false},
                    "axis": {"values": [2, 4, 6, 8, 10], "offset": -177.5, "domain": false, "labelPadding": 3, "labelOverlap": false, "title": null}}
            }
          },
          {
            "data": {"name": "F15"},
            "mark": {"type": "line", "color": "#6ECEF5", "strokeWidth": 6, "strokeJoin": "round", "strokeCap": "round"},
            "encoding": {"x": {"field": "pos", "type": "quantitative"}, "y": {"field": "signal", "type": "quantitative"}}
          },
          {"data": {"name": "one"}, "mark": {"type": "rule", "color": "#000000", "strokeWidth": 3.5}, "encoding": {"x": {"datum": 0}, "y": {"datum": 0}, "y2": {"datum": 10}}},
          {"data": {"name": "one"}, "mark": {"type": "text", "text": "F", "fontSize": 24}, "encoding": {"x": {"datum": -2811}, "y": {"datum": 12.23}}},
          {"data": {"name": "one"}, "mark": {"type": "text", "text": "TSS: Genes", "fontSize": 26, "align": "right"}, "encoding": {"x": {"datum": -389}, "y": {"datum": 11.22}}},
          {"data": {"name": "one"}, "mark": {"type": "text", "text": "sams-4", "fontSize": 26, "fontStyle": "italic", "align": "left"}, "encoding": {"x": {"datum": -287}, "y": {"datum": 11.22}}},
          {"data": {"name": "one"}, "mark": {"type": "text", "text": "down", "fontSize": 26, "align": "left"}, "encoding": {"x": {"datum": 817}, "y": {"datum": 11.22}}},
          {"data": {"name": "one"}, "mark": {"type": "text", "text": "sams-4", "fontSize": 26, "fontStyle": "italic", "align": "left"}, "encoding": {"x": {"datum": 378}, "y": {"datum": 8.53}}},
          {"data": {"name": "one"}, "mark": {"type": "text", "text": "Peaks", "fontSize": 26, "align": "left"}, "encoding": {"x": {"datum": 1473}, "y": {"datum": 8.53}}},
          {"data": {"name": "one"}, "mark": {"type": "point", "shape": "circle", "filled": true, "opacity": 1, "size": 576, "color": "#6ECEF5"}, "encoding": {"x": {"datum": 670}, "y": {"datum": 7.14}}},
          {"data": {"name": "one"}, "mark": {"type": "point", "shape": "circle", "filled": true, "opacity": 1, "size": 576, "color": "#2B4DA0"}, "encoding": {"x": {"datum": 670}, "y": {"datum": 5.7}}},
          {"data": {"name": "one"}, "mark": {"type": "text", "text": "15°C", "fontSize": 25.5, "align": "left"}, "encoding": {"x": {"datum": 1020}, "y": {"datum": 7.14}}},
          {"data": {"name": "one"}, "mark": {"type": "text", "text": "37°C", "fontSize": 25.5, "align": "left"}, "encoding": {"x": {"datum": 1020}, "y": {"datum": 5.7}}}
        ]
      }
    ]
  }
]
}
